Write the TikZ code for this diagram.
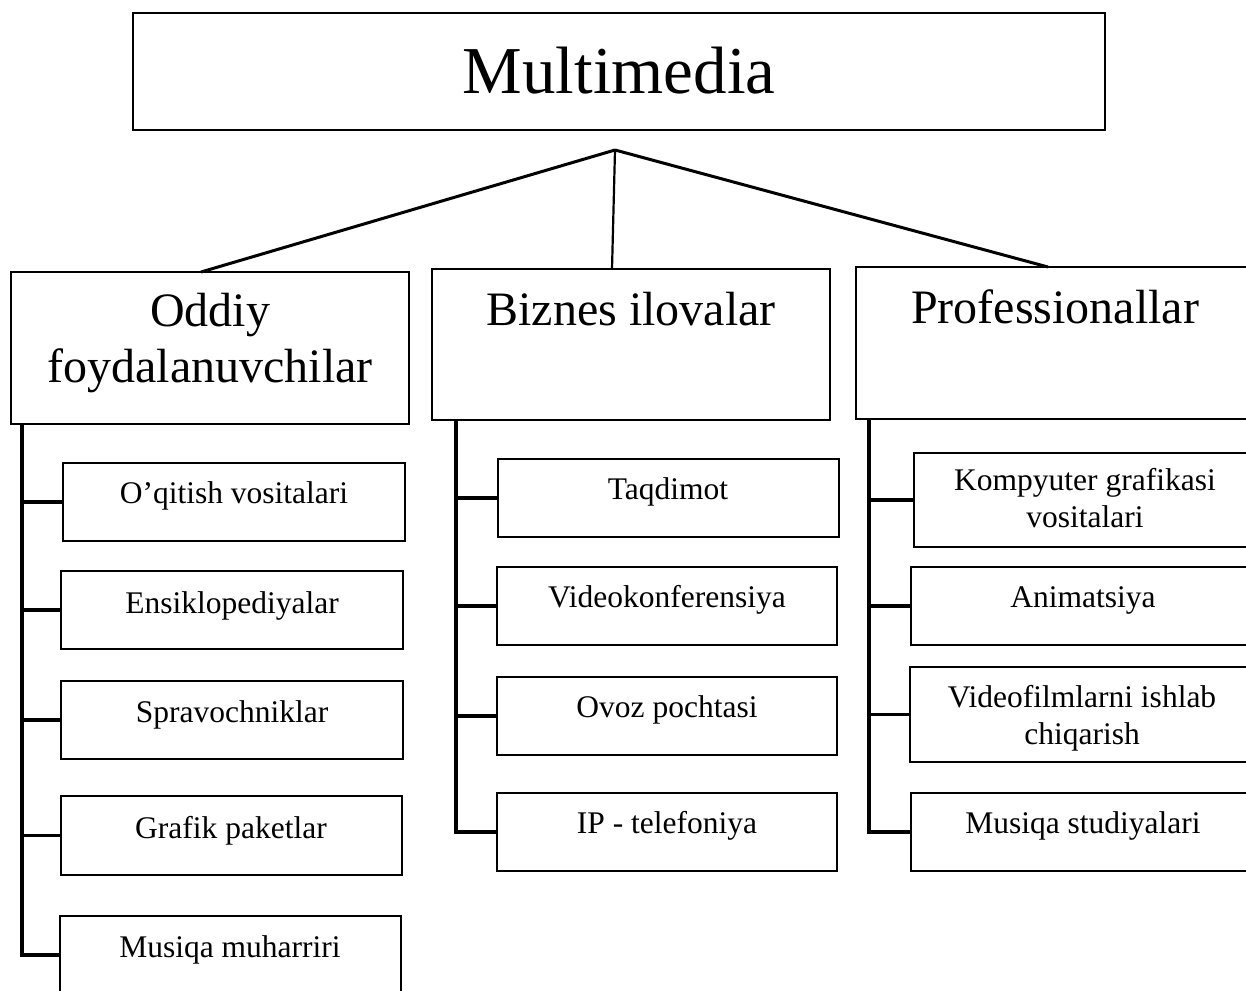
\documentclass[tikz,border=0pt]{standalone}
\usepackage{fontspec}
\setmainfont{Liberation Serif}
\begin{document}
\begin{tikzpicture}[x=1pt,y=-1pt,
  bx/.style={draw,line width=2.2pt,inner sep=0pt,outer sep=0pt},
  smalltxt/.style={anchor=base,inner sep=0pt,font=\fontsize{31.5}{36}\selectfont},
  midtxt/.style={anchor=base,inner sep=0pt,font=\fontsize{48}{56}\selectfont},
  bigtxt/.style={anchor=base,inner sep=0pt,font=\fontsize{67}{78}\selectfont},
  conn/.style={line width=3pt},
  trunk/.style={line width=3.5pt},
  branch/.style={line width=3.5pt}]
\clip (0,0) rectangle (1246,990);
\fill[white] (0,0) rectangle (1246,990);
% top
\node[bx,minimum width=972pt,minimum height=117pt] (top) at (619,71.5) {};
\node[bigtxt] (toptxt) at (619,93) {Multimedia};
% level 1
\node[bx,minimum width=398pt,minimum height=152pt] (odd) at (210,348) {};
\node[midtxt] (oddt1) at (210,326) {Oddiy};
\node[midtxt] (oddt2) at (210,382) {foydalanuvchilar};
\node[bx,minimum width=398pt,minimum height=151pt] (biz) at (631,344.5) {};
\node[midtxt] (bizt) at (631,325) {Biznes ilovalar};
\node[bx,minimum width=399pt,minimum height=152pt] (prof) at (1055.5,343) {};
\node[midtxt] (proft) at (1055,323) {Professionallar};
% apex connectors
\coordinate (apex) at (615,150);
\draw[conn] (apex) -- ([xshift=-9pt]odd.north);
\draw[line width=2.2pt] (apex) -- ([xshift=-19pt]biz.north);
\draw[conn] (apex) -- ([xshift=-7.5pt]prof.north);
% left column
\node[bx,minimum width=342pt,minimum height=78pt] (L1) at (234,502) {};
\node[smalltxt] (L1t) at (234,503) {O’qitish vositalari};
\node[bx,minimum width=342pt,minimum height=78pt] (L2) at (232,610) {};
\node[smalltxt] (L2t) at (232,613) {Ensiklopediyalar};
\node[bx,minimum width=342pt,minimum height=78pt] (L3) at (232,720) {};
\node[smalltxt] (L3t) at (232,722) {Spravochniklar};
\node[bx,minimum width=341pt,minimum height=79pt] (L4) at (231.5,835.5) {};
\node[smalltxt] (L4t) at (231,838) {Grafik paketlar};
\node[bx,minimum width=341pt,minimum height=78pt] (L5) at (230.5,955) {};
\node[smalltxt] (L5t) at (230,957) {Musiqa muharriri};
% middle column
\node[bx,minimum width=341pt,minimum height=78pt] (M1) at (668.5,498) {};
\node[smalltxt] (M1t) at (668,499) {Taqdimot};
\node[bx,minimum width=340pt,minimum height=78pt] (M2) at (667,606) {};
\node[smalltxt] (M2t) at (667,607) {Videokonferensiya};
\node[bx,minimum width=340pt,minimum height=78pt] (M3) at (667,716) {};
\node[smalltxt] (M3t) at (667,717) {Ovoz pochtasi};
\node[bx,minimum width=340pt,minimum height=78pt] (M4) at (667,832) {};
\node[smalltxt] (M4t) at (667,833) {IP - telefoniya};
% right column
\node[bx,minimum width=341pt,minimum height=94pt] (R1) at (1084.5,500) {};
\node[smalltxt] (R1t1) at (1085,490) {Kompyuter grafikasi};
\node[smalltxt] (R1t2) at (1085,527) {vositalari};
\node[bx,minimum width=344pt,minimum height=78pt] (R2) at (1083,606) {};
\node[smalltxt] (R2t) at (1083,607) {Animatsiya};
\node[bx,minimum width=345pt,minimum height=95pt] (R3) at (1082.5,714.5) {};
\node[smalltxt] (R3t1) at (1082,707) {Videofilmlarni ishlab};
\node[smalltxt] (R3t2) at (1082,744) {chiqarish};
\node[bx,minimum width=344pt,minimum height=78pt] (R4) at (1083,832) {};
\node[smalltxt] (R4t) at (1083,833) {Musiqa studiyalari};
% trunks
\coordinate (tl) at ([xshift=11pt]odd.south west);
\coordinate (tm) at ([xshift=24pt]biz.south west);
\coordinate (tr) at ([xshift=13pt]prof.south west);
\draw[trunk] (tl) |- (L5.west);
\draw[branch] (tl |- L1.west) -- (L1.west);
\draw[branch] (tl |- L2.west) -- (L2.west);
\draw[branch] (tl |- L3.west) -- (L3.west);
\draw[branch] (tl |- L4.west) -- (L4.west);
\draw[trunk] (tm) |- (M4.west);
\draw[branch] (tm |- M1.west) -- (M1.west);
\draw[branch] (tm |- M2.west) -- (M2.west);
\draw[branch] (tm |- M3.west) -- (M3.west);
\draw[trunk] (tr) |- (R4.west);
\draw[branch] (tr |- R1.west) -- (R1.west);
\draw[branch] (tr |- R2.west) -- (R2.west);
\draw[branch] (tr |- R3.west) -- (R3.west);
\end{tikzpicture}
\end{document}
